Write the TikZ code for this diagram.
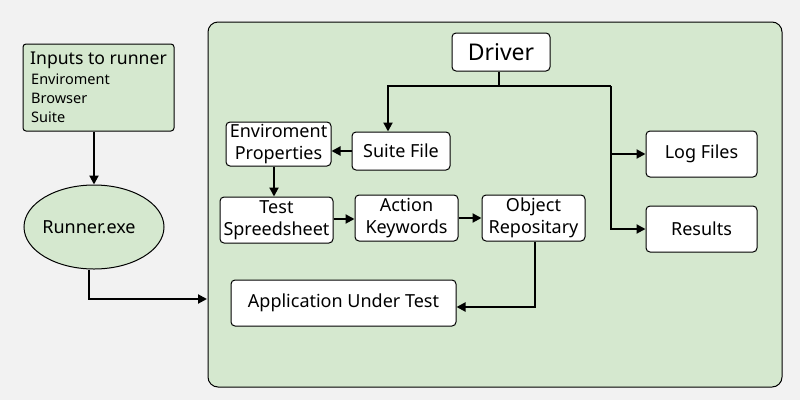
\documentclass[tikz,border=0pt]{standalone}
\usepackage{fontspec}
\setmainfont{Noto Sans}
\usetikzlibrary{arrows.meta,shapes.geometric,calc}
\definecolor{bggray}{RGB}{242,242,242}
\definecolor{panelgreen}{RGB}{213,232,207}
\tikzset{
  box/.style={draw=black, line width=1pt, fill=white, rounded corners=4pt, inner sep=0pt, align=center, font=\fontsize{18}{21.5}\selectfont},
  line/.style={draw=black, line width=2pt},
  arr/.style={line, -{Triangle[length=9pt,width=9pt]}},
}
\begin{document}
\begin{tikzpicture}[x=1pt,y=-1pt]
\fill[bggray] (0,0) rectangle (800,400);
\useasboundingbox (0,0) rectangle (800,400);
% panel
\draw[fill=panelgreen, line width=1pt, rounded corners=10pt] (208,22) rectangle (782,387);
% inputs
\node[draw=black, line width=1pt, fill=panelgreen, rounded corners=3pt, minimum width=151pt, minimum height=87pt, inner sep=0pt] (inputs) at (98.5,87.5) {};
\node[anchor=west, inner sep=0pt, font=\fontsize{17.6}{20}\selectfont] (ititle) at (30,60) {Inputs to runner};
\node[anchor=north west, inner sep=0pt, align=left, font=\fontsize{14.5}{19}\selectfont] (ilist) at (31,74) {Enviroment\\Browser\\Suite};
\node[ellipse, draw=black, line width=1pt, fill=panelgreen, minimum width=140pt, minimum height=84pt, inner sep=0pt] (runner) at (94,227) {};
\node[inner sep=0pt, font=\fontsize{18}{20}\selectfont] (runnerlabel) at (89,227) {Runner.exe};
\draw[arr] (inputs.south -| 94,0) -- (runner.north);
\coordinate (pin) at (207,299);
\draw[arr] ($(runner.south)+(-5,0)$) |- (pin);
% driver
\node[box, minimum width=98pt, minimum height=38pt, font=\fontsize{23}{25}\selectfont] (driver) at (501,52) {Driver};
\node[box, minimum width=98pt, minimum height=38pt] (suite) at (401,151) {Suite File};
\node[box, minimum width=105pt, minimum height=44pt] (env) at (278.5,144) {Enviroment\\Properties};
\node[box, minimum width=113pt, minimum height=46pt] (ts) at (276.5,220) {Test\\Spreedsheet};
\node[box, minimum width=103pt, minimum height=46pt] (ak) at (406.5,218) {Action\\Keywords};
\node[box, minimum width=103pt, minimum height=46pt] (or) at (533.5,218) {Object\\Repositary};
\node[box, minimum width=225pt, minimum height=46pt] (aut) at (343.5,303) {Application Under Test};
\node[box, minimum width=111pt, minimum height=46pt] (logs) at (701.5,154) {Log Files};
\node[box, minimum width=111pt, minimum height=46pt] (results) at (701.5,229) {Results};
% connectors
\coordinate (dj) at (499,86);
\coordinate (bj) at (611,86);
\draw[line] (driver.south -| dj) -- (dj);
\draw[arr] (dj) -| (suite.north -| 388,0);
\draw[line] (dj) -- (bj);
\draw[arr] (bj) |- (logs.west);
\draw[arr] (bj) |- (results.west);
\draw[arr] (suite.west) -- (env.east |- suite.west);
\draw[arr] (env.south -| 274,0) -- (ts.north -| 274,0);
\draw[arr] (ts.east |- 0,219) -- (ak.west |- 0,219);
\draw[arr] (ak.east |- 0,218) -- (or.west |- 0,218);
\draw[arr] (or.south -| 535,0) |- (aut.east |- 0,307);
\end{tikzpicture}
\end{document}
